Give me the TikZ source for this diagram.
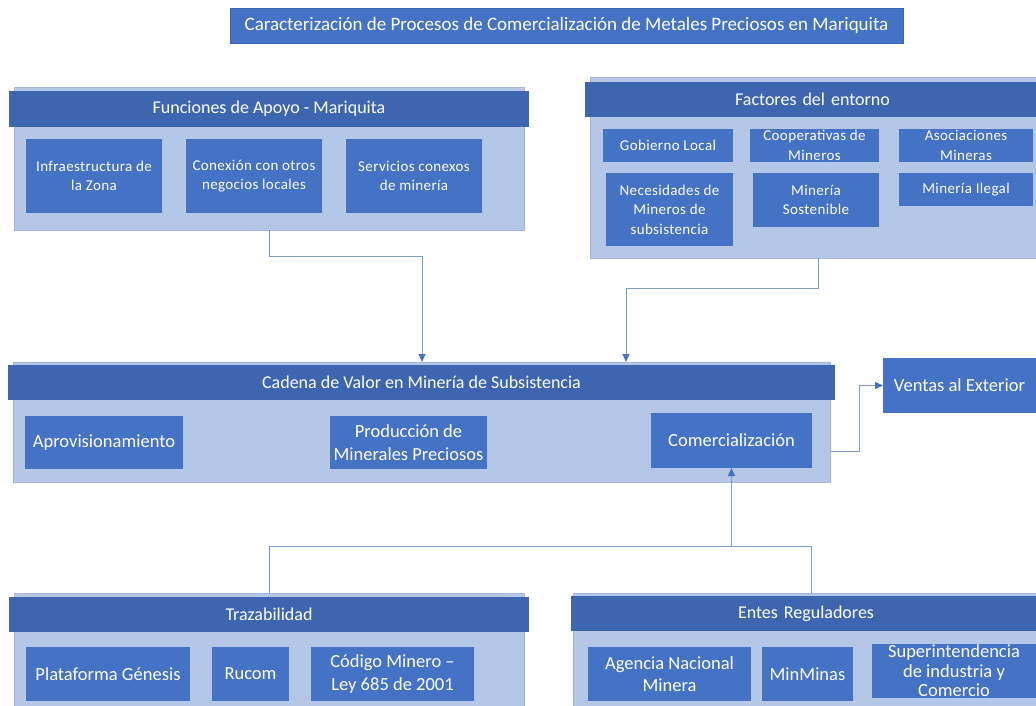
\documentclass[tikz,border=0pt]{standalone}
\usepackage{fontspec}
\setmainfont{Carlito}
\newfontfamily\spacedfont[LetterSpace=2.5]{Carlito}
\usetikzlibrary{arrows.meta}
\definecolor{panelc}{HTML}{B4C7E7}
\definecolor{paneld}{HTML}{A3B6D8}
\definecolor{headc}{HTML}{3E66B0}
\definecolor{boxc}{HTML}{4472C4}
\definecolor{linec}{HTML}{7F9BC9}
\definecolor{arrc}{HTML}{4472C4}
\begin{document}
\begin{tikzpicture}[x=1pt,y=-1pt,
  panel/.style={fill=panelc, draw=paneld, line width=0.6pt, inner sep=0pt, outer sep=0pt, anchor=north west},
  header/.style={fill=headc, draw=none, inner sep=0pt, outer sep=0pt, anchor=north west, text=white, font=\fontsize{18}{21}\selectfont},
  titlebox/.style={fill=boxc, draw=headc, line width=0.6pt, inner sep=0pt, outer sep=0pt, anchor=north west, text=white, font=\fontsize{19}{22}\selectfont},
  sbox/.style={fill=boxc, inner sep=0pt, outer sep=0pt, anchor=north west, text=white, align=center},
  small/.style={font=\spacedfont\fontsize{15}{19.5}\selectfont},
  big/.style={font=\fontsize{18.5}{22.5}\selectfont},
  tight/.style={font=\fontsize{18.5}{19.5}\selectfont},
  conn/.style={draw=linec, line width=1pt},
  arr/.style={-{Triangle[length=8pt,width=7pt,color=arrc]}}
]
\fill[white] (0,0) rectangle (1036,706);
\useasboundingbox (0,0) rectangle (1036,706);
\clip (0,0) rectangle (1036,706);

% Title
\node[titlebox, minimum width=673pt, minimum height=35pt] (title) at (230,8)
  {Caracterización de Procesos de Comercialización de Metales Preciosos en Mariquita};

% Funciones de Apoyo
\node[panel, minimum width=510pt, minimum height=143pt] (funpanel) at (14,87) {};
\node[header, minimum width=520pt, minimum height=36pt] (funhead) at (9,91) {Funciones de Apoyo - Mariquita};
\node[sbox, small, minimum width=136pt, minimum height=74pt] (infra) at (26,139) {Infraestructura de\\la Zona};
\node[sbox, small, minimum width=136pt, minimum height=74pt] (conex) at (186,139) {Conexión con otros\\negocios locales};
\node[sbox, small, minimum width=136pt, minimum height=74pt] (serv) at (346,139) {Servicios conexos\\de minería};

% Factores del entorno
\node[panel, minimum width=450pt, minimum height=181pt] (facpanel) at (590,77) {};
\node[header, minimum width=455pt, minimum height=35pt, text width=451pt, align=center] (fachead) at (585,82) {Factores del entorno};
\node[sbox, small, minimum width=130pt, minimum height=33pt] (gob) at (603,129) {Gobierno Local};
\node[sbox, small, minimum width=129pt, minimum height=33pt] (coop) at (750,129) {Cooperativas de\\Mineros};
\node[sbox, small, minimum width=134pt, minimum height=33pt] (asoc) at (899,129) {Asociaciones\\Mineras};
\node[sbox, small, minimum width=127pt, minimum height=73pt] (nec) at (606,173) {Necesidades de\\Mineros de\\subsistencia};
\node[sbox, small, minimum width=126pt, minimum height=54pt] (sost) at (753,173) {Minería\\Sostenible};
\node[sbox, small, minimum width=134pt, minimum height=33pt] (ileg) at (899,173) {Minería Ilegal};

% Cadena de valor
\node[panel, minimum width=817pt, minimum height=120pt] (cadpanel) at (13,362) {};
\node[header, minimum width=827pt, minimum height=35pt] (cadhead) at (8,365) {Cadena de Valor en Minería de Subsistencia};
\node[sbox, big, minimum width=158pt, minimum height=53pt] (aprov) at (25,416) {Aprovisionamiento};
\node[sbox, big, minimum width=157pt, minimum height=53pt] (prod) at (330,416) {Producción de\\Minerales Preciosos};
\node[sbox, big, minimum width=161pt, minimum height=55pt] (com) at (651,413) {Comercialización};
\node[sbox, big, minimum width=153pt, minimum height=55pt] (ventas) at (883,358) {Ventas al Exterior};

% Trazabilidad
\node[panel, minimum width=510pt, minimum height=130pt] (trazpanel) at (14,593) {};
\node[header, minimum width=520pt, minimum height=35pt] (trazhead) at (9,597) {Trazabilidad};
\node[sbox, big, minimum width=164pt, minimum height=54pt] (plat) at (26,647) {Plataforma Génesis};
\node[sbox, big, minimum width=77pt, minimum height=54pt] (rucom) at (212,647) {Rucom};
\node[sbox, big, minimum width=163pt, minimum height=54pt] (cod) at (311,647) {Código Minero –\\Ley 685 de 2001};

% Entes Reguladores
\node[panel, minimum width=470pt, minimum height=130pt] (entpanel) at (573,593) {};
\node[header, minimum width=470pt, minimum height=35pt, text width=465pt, align=center] (enthead) at (571,596) {Entes Reguladores};
\node[sbox, big, minimum width=163pt, minimum height=54pt] (agencia) at (588,647) {Agencia Nacional\\Minera};
\node[sbox, big, minimum width=91pt, minimum height=54pt] (minminas) at (762,647) {MinMinas};
\node[sbox, tight, minimum width=164pt, minimum height=54pt] (super) at (872,644) {Superintendencia\\de industria y\\Comercio};

% Connector coordinates
\coordinate (cadin1) at (422,362);
\coordinate (facout) at (818,258);
\coordinate (cadin2) at (626,362);
\coordinate (cadout) at (830,451);
\coordinate (entout) at (811,593);
\coordinate (junc) at (731.5,546);

% Connectors
\draw[conn, arr] (funpanel.south) -- ++(0,26) -| (cadin1);
\draw[conn, arr] (facout) -- ++(0,30) -| (cadin2);
\draw[conn, arr] (cadout) -- ++(29,0) |- (ventas.west);
\draw[conn, arr] (trazpanel.north) -- ++(0,-47) -| (com.south);
\draw[conn] (entout) |- (junc);
\end{tikzpicture}
\end{document}
